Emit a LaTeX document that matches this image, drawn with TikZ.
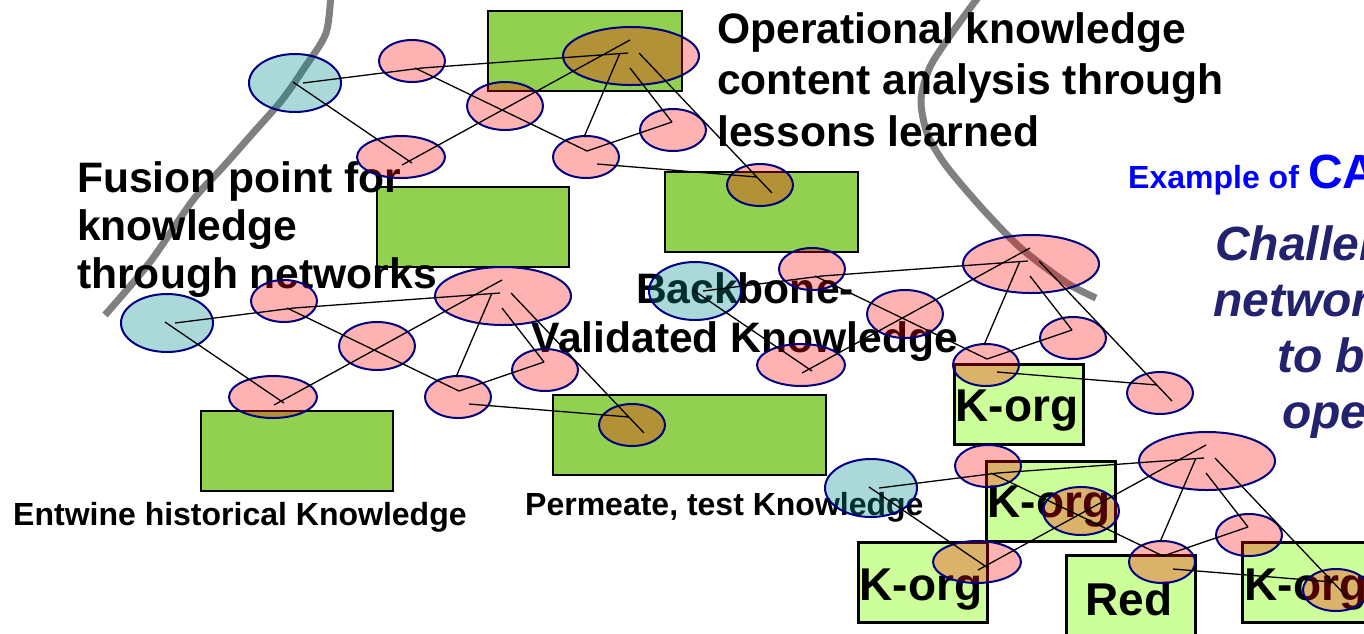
\documentclass[tikz,border=0pt]{standalone}
\usepackage{fontspec}
\setmainfont{Liberation Sans}
\usetikzlibrary{shapes.geometric}
\definecolor{boxgreen}{RGB}{146,208,80}
\definecolor{kgreen}{RGB}{204,255,153}
\definecolor{navyb}{RGB}{0,0,128}
\definecolor{curvegray}{RGB}{128,128,128}
\definecolor{itnavy}{RGB}{34,34,110}
\definecolor{exblue}{RGB}{0,0,255}
\definecolor{tealfill}{RGB}{0,140,140}
\tikzset{
  curve/.style={draw=curvegray, line width=7pt},
  gbox/.style={draw=black, line width=2.5pt, fill=boxgreen},
  kbox/.style={rectangle, draw=black, line width=2.5pt, fill=kgreen, minimum width=129pt, minimum height=80pt, inner sep=0pt, anchor=north west},
  bigtxt/.style={font=\bfseries\fontsize{42.6}{50}\selectfont, inner sep=0pt, anchor=base west},
  midtxt/.style={font=\bfseries\fontsize{32}{36}\selectfont, inner sep=0pt, anchor=base west},
  ktxt/.style={font=\bfseries\fontsize{46}{52}\selectfont, inner sep=0pt, anchor=base},
  itxt/.style={font=\bfseries\itshape\fontsize{48}{56}\selectfont, text=itnavy, inner sep=0pt, anchor=base west},
  redell/.style={ellipse, draw=navyb, line width=2pt, fill=red, fill opacity=.3, inner sep=0pt},
  blueell/.style={ellipse, draw=navyb, line width=2pt, fill=tealfill, fill opacity=.33, inner sep=0pt},
  esize/.style 2 args={minimum width=#1, minimum height=#2},
  link/.style={draw=black, line width=1.3pt}
}
\newcommand\knet[3]{%
\begin{scope}[shift={(#2,#3)}]
  \node[blueell, esize={92pt}{58pt}] (#1B) at (295,83) {};
  \node[redell, esize={66pt}{42pt}] (#1A) at (412,61) {};
  \node[redell, esize={76pt}{48pt}] (#1C) at (505,106) {};
  \node[redell, esize={88pt}{42pt}] (#1D) at (401,157) {};
  \node[redell, esize={136pt}{58pt}] (#1E) at (631,56) {};
  \node[redell, esize={66pt}{42pt}] (#1F) at (586,157) {};
  \node[redell, esize={66pt}{42pt}] (#1G) at (673,130) {};
  \node[redell, esize={66pt}{42pt}] (#1H) at (760,185) {};
  \draw[link] ([shift={(8,0)}]#1B.center) -- ([shift={(10,7)}]#1A.center);
  \draw[link] ([shift={(10,7)}]#1A.center) -- ([shift={(-3,-3)}]#1E.center);
  \draw[link] ([shift={(-2,-1)}]#1B.center) -- ([shift={(11,6)}]#1D.center);
  \draw[link] ([shift={(1,8)}]#1D.center) -- ([shift={(-1,-16)}]#1E.center);
  \draw[link] ([shift={(3,7)}]#1A.center) -- ([shift={(1,-6)}]#1F.center);
  \draw[link] ([shift={(1,-6)}]#1F.center) -- ([shift={(-1,-8)}]#1G.center);
  \draw[link] ([shift={(-1,-8)}]#1G.center) -- ([shift={(-1,12)}]#1E.center);
  \draw[link] ([shift={(-2,-20)}]#1F.center) -- ([shift={(-11,-3)}]#1E.center);
  \draw[link] ([shift={(11,7)}]#1F.center) -- ([shift={(-3,-8)}]#1H.center);
  \draw[link] ([shift={(8,-3)}]#1E.center) -- ([shift={(12,8)}]#1H.center);
\end{scope}}
\begin{document}
\begin{tikzpicture}[x=1pt, y=-1pt]
\useasboundingbox (0,0) rectangle (1364,633);
\clip (0,0) rectangle (1364,633);
% gray separating curves
\draw[curve] plot[smooth] coordinates {(331,-8) (326,33) (305,67) (282,100) (253,133) (223,167) (193,200) (150,262) (105,315)};
\draw[curve] plot[smooth] coordinates {(982,-8) (952,33) (930,67) (921,100) (927,133) (942,160) (960,183) (990,217) (1023,250) (1067,283) (1096,298)};
% green boxes
\draw[gbox] (488,11) rectangle (682,91);
\draw[gbox] (377,187) rectangle (569,267);
\draw[gbox] (665,172) rectangle (858,252);
\draw[gbox] (201,411) rectangle (393,491);
\draw[gbox] (553,395) rectangle (826,475);
% K-org boxes
\node[kbox] (k1) at (953,363) {};
\node[kbox] (k2) at (985,460) {};
\node[kbox] (k3) at (857,541) {};
\node[kbox] (kr) at (1065,554) {};
\node[kbox] (k5) at (1241,541) {};
\node[ktxt] (k1t) at (1017,421) {K-org};
\node[ktxt] (k2t) at (1049,517) {K-org};
\node[ktxt] (k3t) at (921,600) {K-org};
\node[ktxt] (krt) at (1129,615) {Red};
\node[ktxt] (k5t) at (1306,600) {K-org};
% texts
\node[bigtxt] (op1) at (717,43) {Operational knowledge};
\node[bigtxt] (op2) at (717,94) {content analysis through};
\node[bigtxt] (op3) at (717,146) {lessons learned};
\node[bigtxt] (fu1) at (77,192) {Fusion point for};
\node[bigtxt] (fu2) at (77,240) {knowledge};
\node[bigtxt] (fu3) at (77,288) {through networks};
\node[bigtxt, anchor=base] (bb1) at (745,303) {Backbone-};
\node[bigtxt, anchor=base] (bb2) at (745,352) {Validated Knowledge};
\node[midtxt] (en) at (13,525) {Entwine historical Knowledge};
\node[midtxt] (pe) at (525,515) {Permeate, test Knowledge};
\node[midtxt, text=exblue] (ex) at (1128,188) {Example of};
\node[bigtxt, text=exblue, font=\bfseries\fontsize{48}{56}\selectfont] (ca) at (1308,188) {CA};
\node[itxt] (ch1) at (1215,260) {Challen};
\node[itxt] (ch2) at (1213,316) {networ};
\node[itxt] (ch3) at (1277,372) {to b};
\node[itxt] (ch4) at (1282,428) {ope};
% networks
\knet{p}{0}{0}
\knet{q}{-128}{240}
\knet{r}{400}{208}
\knet{s}{576}{405}
\end{tikzpicture}
\end{document}
